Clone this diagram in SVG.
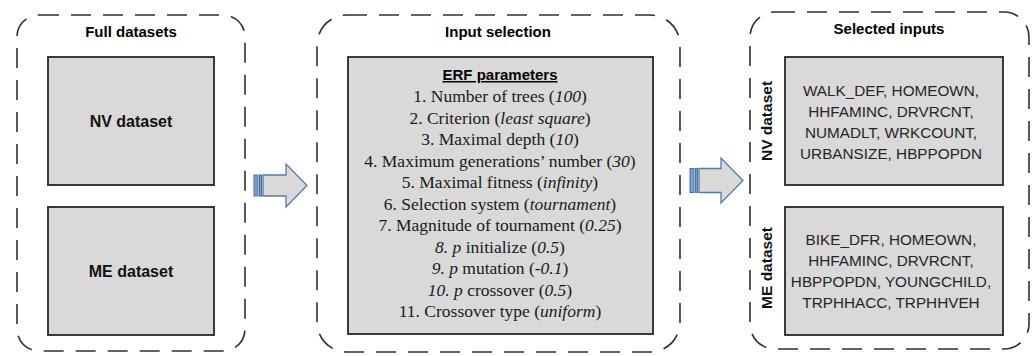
<svg xmlns="http://www.w3.org/2000/svg" width="1032" height="356" viewBox="0 0 1032 356">
<style>
.cont{fill:none;stroke:#303030;stroke-width:1.6;stroke-dasharray:20 12}
.box{fill:#d9d9d9;stroke:#262626;stroke-width:1.8}
.title{font-family:"Liberation Sans",Arial,sans-serif;font-weight:bold;font-size:15px;fill:#000;text-anchor:middle}
.lbl{font-family:"Liberation Sans",Arial,sans-serif;font-weight:bold;font-size:16px;fill:#111;text-anchor:middle}
.vlbl{font-family:"Liberation Sans",Arial,sans-serif;font-weight:bold;font-size:15.5px;fill:#111;text-anchor:middle}
.var{font-family:"Liberation Sans",Arial,sans-serif;font-size:15.3px;fill:#262626;text-anchor:middle}
.par{font-family:"Liberation Serif","Times New Roman",serif;font-size:17.5px;fill:#1a1a1a;text-anchor:middle}
.it{font-style:italic}
.arr{fill:#d9d9d9;stroke:#5579aa;stroke-width:1.3}
.stripe{fill:#7e9cc6;stroke:#4a72a6;stroke-width:1}
</style>
<rect width="1032" height="356" fill="#ffffff"/>

<g id="full-datasets">
  <rect class="cont" x="17" y="15" width="228" height="336" rx="22"/>
  <text class="title" x="131" y="37">Full datasets</text>
  <g id="nv-full">
    <rect class="box" x="48" y="57" width="166" height="128"/>
    <text class="lbl" x="131" y="127">NV dataset</text>
  </g>
  <g id="me-full">
    <rect class="box" x="48" y="207" width="166" height="128"/>
    <text class="lbl" x="131" y="277">ME dataset</text>
  </g>
</g>

<g id="input-selection">
  <rect class="cont" x="317" y="15" width="363" height="337" rx="30"/>
  <text class="title" x="498" y="37">Input selection</text>
  <g id="erf-parameters">
    <rect class="box" x="348" y="57" width="305" height="277"/>
    <text class="title" x="500" y="80" text-decoration="underline">ERF parameters</text>
    <text class="par" x="500" y="102">1. Number of trees (<tspan class="it">100</tspan>)</text>
    <text class="par" x="500" y="123.5">2. Criterion (<tspan class="it">least square</tspan>)</text>
    <text class="par" x="500" y="145">3. Maximal depth (<tspan class="it">10</tspan>)</text>
    <text class="par" x="500" y="166.5">4. Maximum generations’ number (<tspan class="it">30</tspan>)</text>
    <text class="par" x="500" y="188">5. Maximal fitness (<tspan class="it">infinity</tspan>)</text>
    <text class="par" x="500" y="209.5">6. Selection system (<tspan class="it">tournament</tspan>)</text>
    <text class="par" x="500" y="231">7. Magnitude of tournament (<tspan class="it">0.25</tspan>)</text>
    <text class="par" x="500" y="252.5"><tspan class="it">8. p</tspan> initialize (<tspan class="it">0.5</tspan>)</text>
    <text class="par" x="500" y="274"><tspan class="it">9. p</tspan> mutation (<tspan class="it">-0.1</tspan>)</text>
    <text class="par" x="500" y="295.5"><tspan class="it">10. p</tspan> crossover (<tspan class="it">0.5</tspan>)</text>
    <text class="par" x="500" y="317">11. Crossover type (<tspan class="it">uniform</tspan>)</text>
  </g>
</g>

<g id="selected-inputs">
  <rect class="cont" x="750" y="12" width="279" height="337" rx="25"/>
  <text class="title" x="889" y="34">Selected inputs</text>
  <g id="nv-selected">
    <text class="vlbl" transform="translate(772,121) rotate(-90)">NV dataset</text>
    <rect class="box" x="785" y="57" width="218" height="128"/>
    <text class="var" x="891" y="96">WALK_DEF, HOMEOWN,</text>
    <text class="var" x="891" y="117">HHFAMINC, DRVRCNT,</text>
    <text class="var" x="891" y="138">NUMADLT, WRKCOUNT,</text>
    <text class="var" x="891" y="159">URBANSIZE, HBPPOPDN</text>
  </g>
  <g id="me-selected">
    <text class="vlbl" transform="translate(772,268) rotate(-90)">ME dataset</text>
    <rect class="box" x="785" y="207" width="218" height="128"/>
    <text class="var" x="891" y="245">BIKE_DFR, HOMEOWN,</text>
    <text class="var" x="891" y="266">HHFAMINC, DRVRCNT,</text>
    <text class="var" x="891" y="287">HBPPOPDN, YOUNGCHILD,</text>
    <text class="var" x="891" y="308">TRPHHACC, TRPHHVEH</text>
  </g>
</g>

<g id="connectors">
  <g id="arrow1">
    <rect class="stripe" x="254" y="175" width="4" height="21"/>
    <rect class="stripe" x="259.5" y="175" width="2" height="21"/>
    <polygon class="arr" points="263,175 286,175 286,164 307,185.5 286,207 286,196 263,196"/>
  </g>
  <g id="arrow2">
    <rect class="stripe" x="690" y="168.5" width="4" height="24"/>
    <rect class="stripe" x="695.5" y="168.5" width="2" height="24"/>
    <polygon class="arr" points="699,168.5 721,168.5 721,158 743,180.5 721,203 721,192.5 699,192.5"/>
  </g>
</g>
</svg>
